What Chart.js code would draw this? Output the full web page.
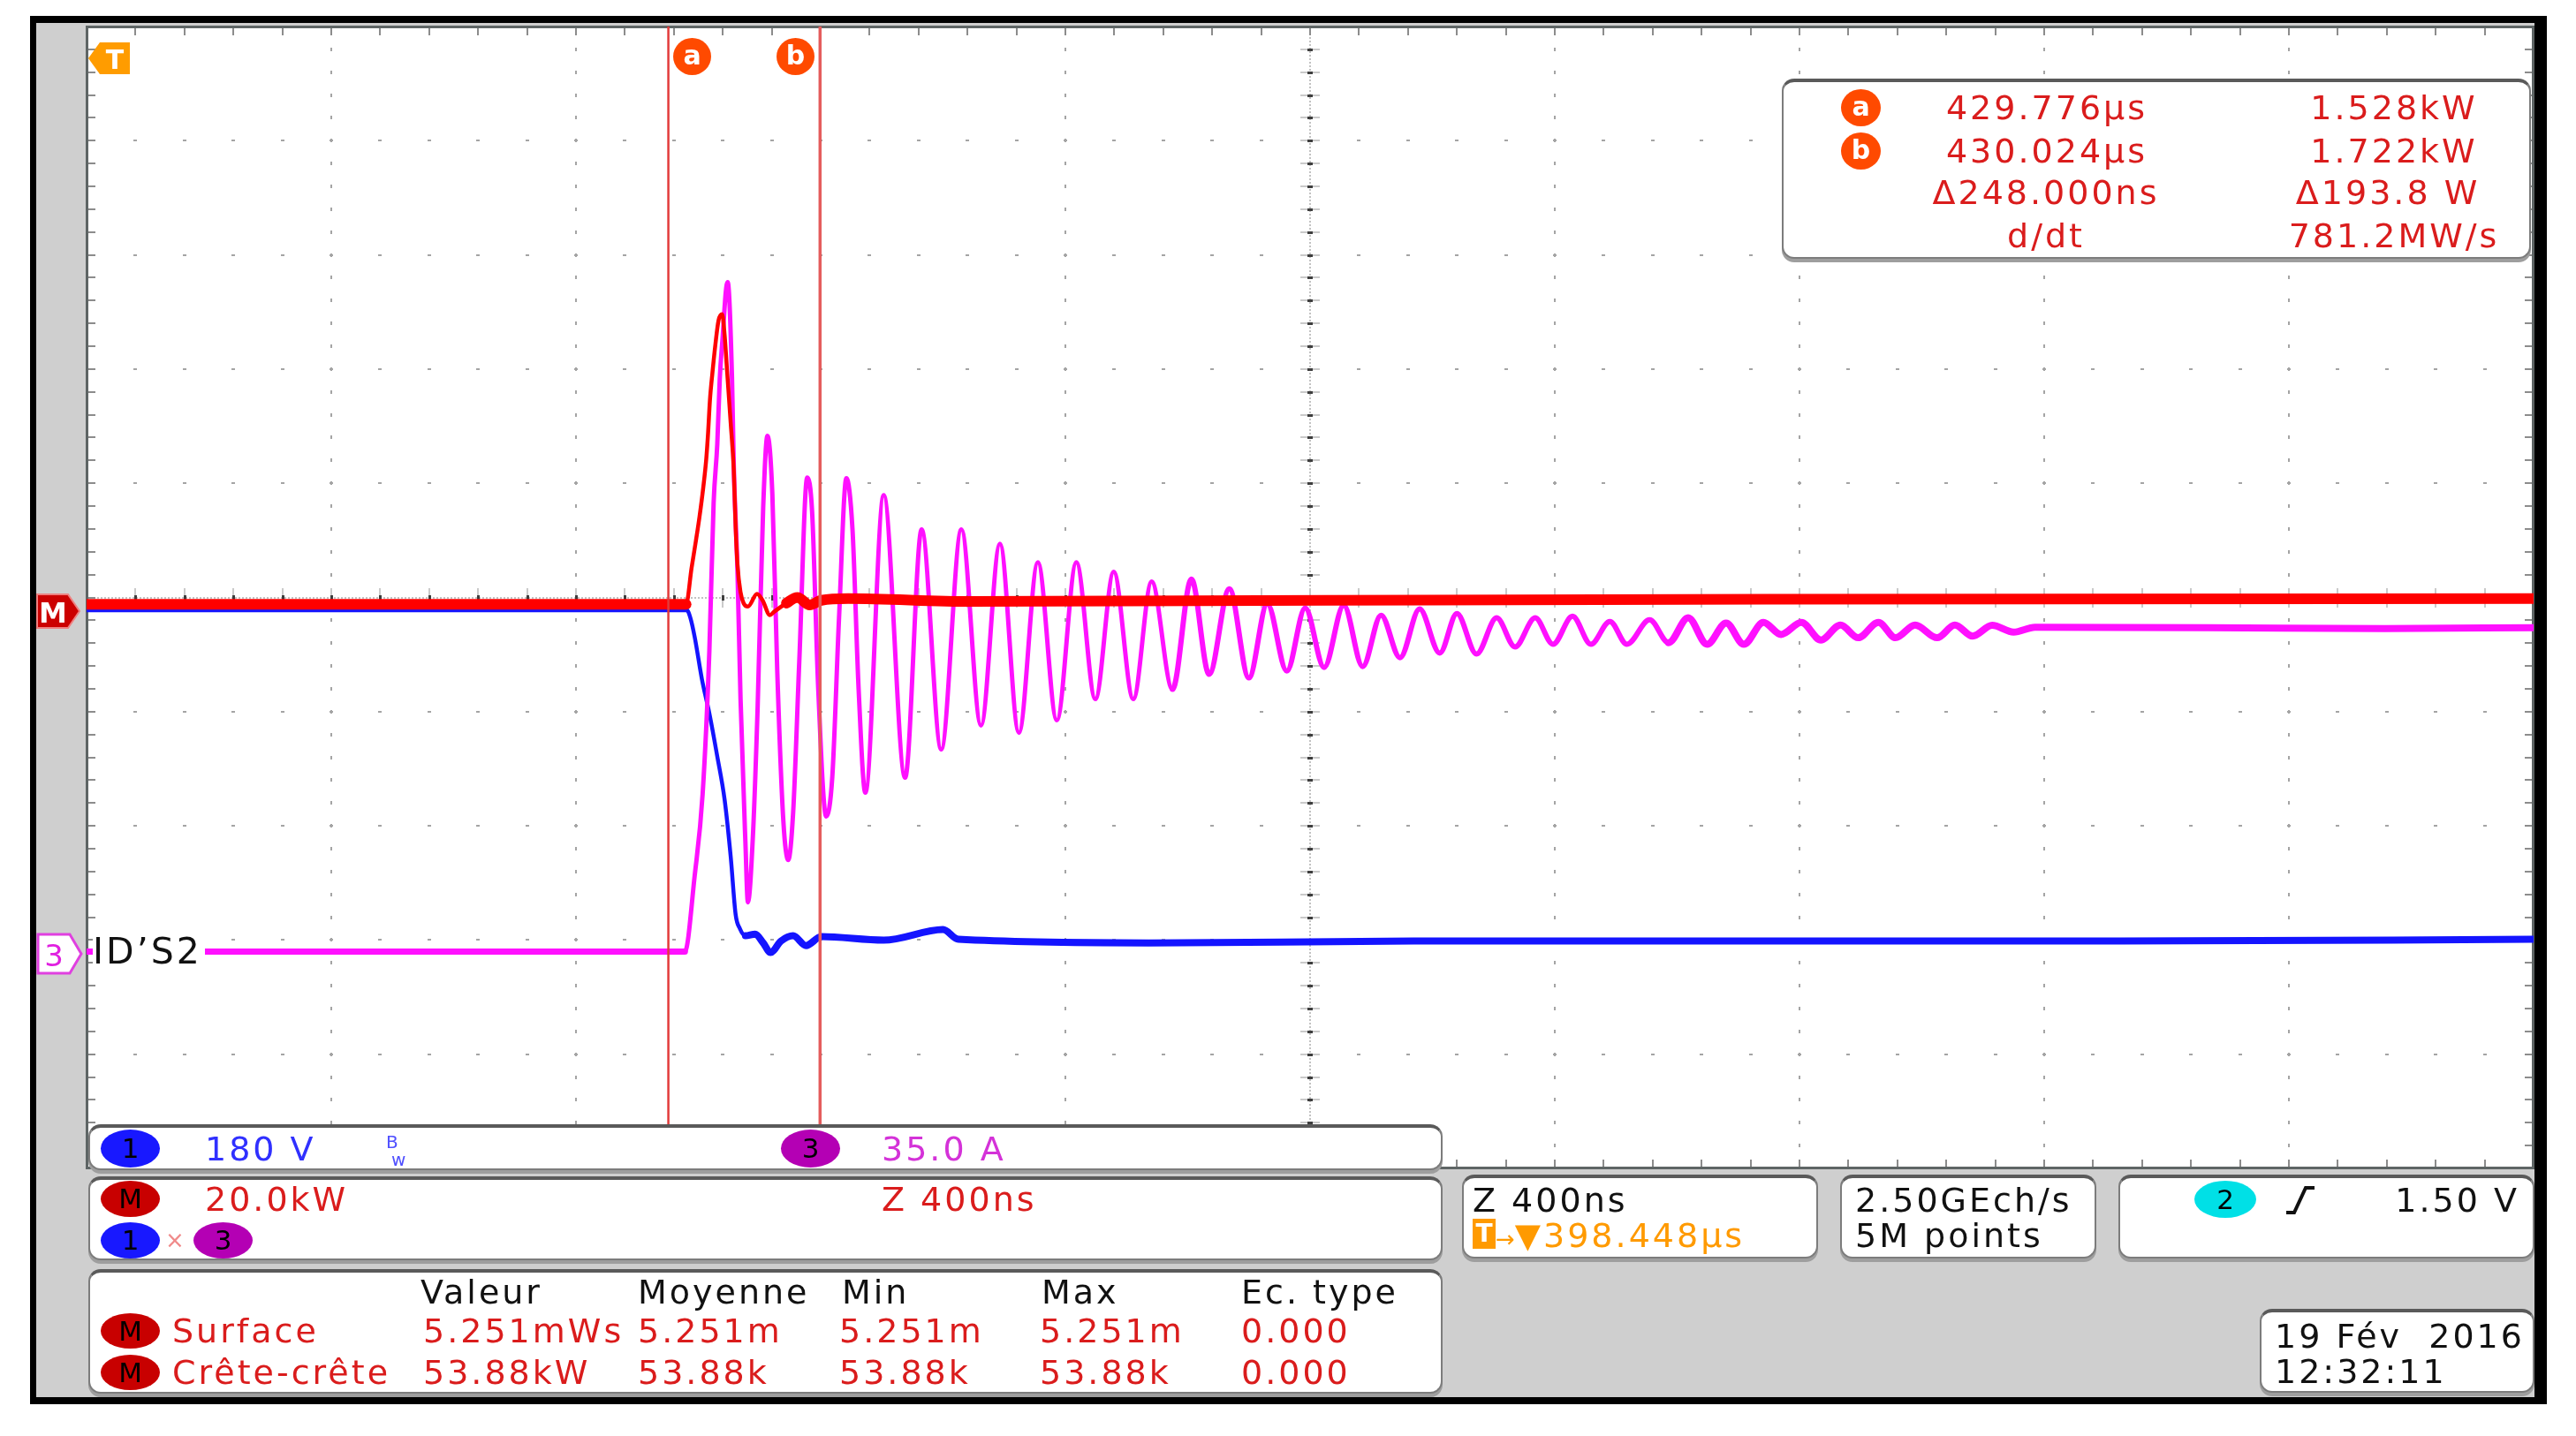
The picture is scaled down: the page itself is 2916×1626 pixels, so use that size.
<!DOCTYPE html>
<html>
<head>
<meta charset="utf-8">
<title>IDS2 turn-on transient</title>
<script src="https://cdn.jsdelivr.net/npm/chart.js@4.4.1/dist/chart.umd.min.js"></script>
<style>
  html, body { margin:0; padding:0; width:2916px; height:1626px; overflow:hidden; background:#fff;
    font-family:"DejaVu Sans","Liberation Sans",sans-serif; }
  #frame { position:absolute; left:34px; top:18px; width:2849px; height:1572px; background:#000; }
  #screen { position:absolute; left:41px; top:26px; width:2828px; height:1556px; background:#cfcfcf; }
  #scope { position:absolute; left:0; top:0; width:2916px; height:1626px; }
  .abs { position:absolute; }
  .panel { position:absolute; box-sizing:border-box; background:#fff; border:2px solid #7c7c7c;
    border-top:4px solid #5a5a5a; border-radius:14px; box-shadow:0 4px 0 #9e9e9e; }
  .t { position:absolute; font-size:38px; line-height:38px; letter-spacing:3px; white-space:nowrap; }
  .c { width:420px; text-align:center; }
  .red { color:#da1c1c; }
  .blk { color:#111; }
  .badge { position:absolute; border-radius:50%; text-align:center; color:#000; font-size:31px; }
  .circ { position:absolute; border-radius:50%; background:#ff4a00; color:#fff; text-align:center;
    font-weight:bold; font-size:30px; }
</style>
</head>
<body>
<div id="frame"></div>
<div id="screen"></div>
<canvas id="scope" width="2916" height="1626"></canvas>

<!-- trigger marker -->
<svg class="abs" style="left:99px;top:47px" width="50" height="38">
  <polygon points="1,19 14,1 48,1 48,37 14,37" fill="#ff9c00"/>
  <text x="31" y="31" font-size="30" font-weight="bold" fill="#fff" text-anchor="middle" font-family="DejaVu Sans">T</text>
</svg>
<!-- cursor labels -->
<div class="circ" style="left:762px;top:43px;width:43px;height:42px;line-height:40px;">a</div>
<div class="circ" style="left:879px;top:43px;width:43px;height:42px;line-height:40px;">b</div>

<!-- channel markers -->
<svg class="abs" style="left:41px;top:672px" width="50" height="40">
  <polygon points="1,1 36,1 49,20 36,39 1,39" fill="#cc0000" stroke="#ee8080" stroke-width="2"/>
  <text x="19" y="33" font-size="32" font-weight="bold" fill="#fff" text-anchor="middle" font-family="DejaVu Sans">M</text>
</svg>
<svg class="abs" style="left:41px;top:1056px" width="54" height="48">
  <polygon points="2,2 38,2 51,24 38,46 2,46" fill="#fff" stroke="#e040e0" stroke-width="3"/>
  <text x="20" y="38" font-size="34" fill="#e020e0" text-anchor="middle" font-family="DejaVu Sans">3</text>
</svg>
<div class="t blk" style="left:105px;top:1057px;font-size:41px;line-height:41px;background:#fff;padding-right:3px;">ID’S2</div>

<!-- cursor measurement box -->
<div class="panel" style="left:2017px;top:89px;width:848px;height:204px;"></div>
<div class="circ" style="left:2084px;top:101px;width:45px;height:42px;line-height:40px;">a</div>
<div class="circ" style="left:2084px;top:150px;width:45px;height:42px;line-height:40px;">b</div>
<div class="t c red" style="left:2107px;top:103px;">429.776µs</div>
<div class="t c red" style="left:2500px;top:103px;">1.528kW</div>
<div class="t c red" style="left:2107px;top:152px;">430.024µs</div>
<div class="t c red" style="left:2500px;top:152px;">1.722kW</div>
<div class="t c red" style="left:2106px;top:199px;">Δ248.000ns</div>
<div class="t c red" style="left:2493px;top:199px;">Δ193.8 W</div>
<div class="t c red" style="left:2106px;top:248px;">d/dt</div>
<div class="t c red" style="left:2500px;top:248px;">781.2MW/s</div>

<!-- channel panel -->
<div class="panel" style="left:100px;top:1273px;width:1533px;height:52px;"></div>
<div class="badge" style="left:114px;top:1279px;width:67px;height:43px;line-height:43px;background:#1818ff;">1</div>
<div class="t" style="left:232px;top:1282px;color:#3030ff;">180 V</div>
<div class="t" style="left:437px;top:1283px;color:#5050ff;font-size:20px;line-height:20px;letter-spacing:0;">B<br><span style="padding-left:6px">w</span></div>
<div class="badge" style="left:884px;top:1279px;width:67px;height:43px;line-height:43px;background:#b400b4;">3</div>
<div class="t" style="left:998px;top:1282px;color:#d432d8;">35.0 A</div>

<!-- math panel -->
<div class="panel" style="left:100px;top:1332px;width:1533px;height:95px;"></div>
<div class="badge" style="left:114px;top:1337px;width:67px;height:41px;line-height:41px;background:#c80000;">M</div>
<div class="t red" style="left:232px;top:1339px;">20.0kW</div>
<div class="t red" style="left:998px;top:1339px;">Z 400ns</div>
<div class="badge" style="left:114px;top:1384px;width:67px;height:41px;line-height:41px;background:#1818ff;">1</div>
<div class="t" style="left:187px;top:1391px;color:#f08a8a;font-size:26px;line-height:26px;letter-spacing:0;">×</div>
<div class="badge" style="left:219px;top:1384px;width:67px;height:41px;line-height:41px;background:#b400b4;">3</div>

<!-- measurement statistics panel -->
<div class="panel" style="left:100px;top:1437px;width:1533px;height:141px;"></div>
<div class="t blk" style="left:476px;top:1444px;">Valeur</div>
<div class="t blk" style="left:722px;top:1444px;">Moyenne</div>
<div class="t blk" style="left:953px;top:1444px;">Min</div>
<div class="t blk" style="left:1179px;top:1444px;">Max</div>
<div class="t blk" style="left:1405px;top:1444px;">Ec. type</div>
<div class="badge" style="left:114px;top:1487px;width:67px;height:40px;line-height:40px;background:#c80000;">M</div>
<div class="t red" style="left:195px;top:1488px;">Surface</div>
<div class="t red" style="left:479px;top:1488px;">5.251mWs</div>
<div class="t red" style="left:722px;top:1488px;">5.251m</div>
<div class="t red" style="left:950px;top:1488px;">5.251m</div>
<div class="t red" style="left:1177px;top:1488px;">5.251m</div>
<div class="t red" style="left:1405px;top:1488px;">0.000</div>
<div class="badge" style="left:114px;top:1534px;width:67px;height:40px;line-height:40px;background:#c80000;">M</div>
<div class="t red" style="left:195px;top:1535px;">Crête-crête</div>
<div class="t red" style="left:479px;top:1535px;">53.88kW</div>
<div class="t red" style="left:722px;top:1535px;">53.88k</div>
<div class="t red" style="left:950px;top:1535px;">53.88k</div>
<div class="t red" style="left:1177px;top:1535px;">53.88k</div>
<div class="t red" style="left:1405px;top:1535px;">0.000</div>

<!-- timebase panel -->
<div class="panel" style="left:1655px;top:1330px;width:403px;height:95px;"></div>
<div class="t blk" style="left:1667px;top:1340px;">Z 400ns</div>
<div class="t" style="left:1667px;top:1380px;color:#ff9a00;"><span style="display:inline-block;background:#ff9a00;color:#fff;font-weight:bold;font-size:28px;width:26px;height:34px;line-height:34px;text-align:center;letter-spacing:0;vertical-align:top;">T</span><span style="font-size:26px;letter-spacing:0;">→</span>▼398.448µs</div>

<!-- acquisition panel -->
<div class="panel" style="left:2083px;top:1330px;width:290px;height:95px;"></div>
<div class="t blk" style="left:2100px;top:1340px;">2.50GEch/s</div>
<div class="t blk" style="left:2100px;top:1380px;">5M points</div>

<!-- trigger panel -->
<div class="panel" style="left:2398px;top:1330px;width:471px;height:95px;"></div>
<div class="badge" style="left:2484px;top:1337px;width:70px;height:42px;line-height:42px;background:#00e0e6;">2</div>
<svg class="abs" style="left:2586px;top:1342px" width="38" height="34">
  <path d="M2,31 L11,31 L24,3 L34,3" stroke="#111" stroke-width="4" fill="none"/>
</svg>
<div class="t blk" style="left:2652px;top:1340px;width:200px;text-align:right;">1.50 V</div>

<!-- date panel -->
<div class="panel" style="left:2558px;top:1482px;width:311px;height:95px;"></div>
<div class="t blk" style="left:2575px;top:1494px;">19 Fév&nbsp;&nbsp;2016</div>
<div class="t blk" style="left:2575px;top:1534px;">12:32:11</div>

<script>
// ---------------- data ----------------
// Horizontal: time in µs (zoom window 400 ns/div, 10 divisions)
const X_MIN_US = 428.825;
const US_PER_DIV = 0.4;
const X_DIVS = 10, Y_DIVS = 10;

// Vertical scales per channel and ground positions (divisions from centre)
const CH1_V_PER_DIV = 180;   // channel 1, volts
const CH3_A_PER_DIV = 35;    // channel 3 (IDS2), amps
const M_KW_PER_DIV = 20;     // math M = 1 x 3, kW
const CH1_POS_DIV = -3.11;
const CH3_POS_DIV = -3.11;
const M_POS_DIV = -0.11;

// Cursors a and b (µs)
const cursorTimesUs = [429.776, 430.024];

// Channel 1 (blue) – voltage, V
const ch1TimeUs = [428.825, 429.806, 429.812, 429.819, 429.831, 429.843, 429.856, 429.868, 429.878,
  429.886, 429.893, 429.902, 429.918, 429.931, 429.943, 429.960, 429.980, 430.001, 430.026, 430.128,
  430.225, 430.250, 430.561, 430.994, 431.572, 432.149, 432.825];
const ch1Volts = [540.1, 540.1, 527.6, 497.7, 430.2, 377.3, 309.1, 240.8, 150.3,
  59.9, 37.6, 26.5, 29.2, 15.3, 0, 18.1, 26.5, 11.1, 25.1, 19.5,
  36.2, 20.9, 15.3, 18.1, 18.1, 18.1, 20.9];

// Channel 3 (magenta) – drain current IDS2, A
const ch3TimeUs = [428.825, 429.803, 429.819, 429.832, 429.843, 429.850, 429.856, 429.860, 429.865, 429.870,
  429.873, 429.880, 429.883, 429.889, 429.894, 429.902, 429.906, 429.914, 429.922, 429.931,
  429.938, 429.946, 429.954, 429.964, 429.972, 429.980, 429.990, 430.003, 430.011, 430.021,
  430.034, 430.044, 430.055, 430.067, 430.077, 430.087, 430.098, 430.128, 430.163, 430.190,
  430.222, 430.255, 430.287, 430.318, 430.349, 430.380, 430.411, 430.443, 430.474, 430.504,
  430.536, 430.566, 430.600, 430.631, 430.660, 430.693, 430.725, 430.755, 430.787, 430.817,
  430.848, 430.880, 430.911, 430.941, 430.972, 431.004, 431.037, 431.065, 431.097, 431.130,
  431.160, 431.193, 431.222, 431.254, 431.284, 431.315, 431.343, 431.380, 431.411, 431.443,
  431.474, 431.505, 431.534, 431.566, 431.595, 431.628, 431.660, 431.692, 431.721, 431.754,
  431.782, 431.814, 431.850, 431.879, 431.908, 431.940, 431.975, 432.010, 432.294, 432.582, 432.825];
const ch3Amps = [0.3, 0.3, 23.5, 48.5, 92.3, 137.8, 155.9, 175.7, 189.2, 202.7,
  205.5, 176.5, 148.6, 116.9, 77.7, 33.6, 15.4, 34.9, 75.5, 136.4,
  158.4, 140.5, 86.4, 40.3, 28.4, 43.0, 89.1, 145.6, 135.1, 80.9,
  41.7, 53.9, 102.6, 145.4, 129.7, 80.9, 49.0, 140.2, 53.6, 129.7,
  62.3, 129.7, 69.6, 125.3, 67.4, 119.6, 71.2, 119.6, 77.7, 116.7,
  77.7, 113.7, 80.7, 114.5, 85.3, 111.5, 84.2, 106.9, 86.3, 105.6,
  87.4, 106.4, 87.7, 103.4, 90.4, 105.3, 91.8, 103.9, 91.5, 102.6,
  93.7, 102.6, 94.5, 103.1, 94.5, 101.5, 94.5, 102.0, 95.0, 102.6,
  94.5, 101.0, 94.5, 101.2, 97.5, 101.2, 95.8, 100.4, 96.5, 101.2,
  96.5, 100.4, 96.5, 100.4, 97.0, 100.3, 98.2, 99.7, 99.6, 99.3, 99.6];

// Math M (red) – instantaneous power 1 x 3, kW
const mTimeUs = [428.825, 429.805, 429.814, 429.821, 429.827, 429.833, 429.838, 429.841, 429.844, 429.848,
  429.853, 429.858, 429.864, 429.868, 429.872, 429.878, 429.883, 429.886, 429.889, 429.894,
  429.899, 429.906, 429.921, 429.930, 429.942, 429.949, 429.969, 429.987, 430.007, 430.026,
  430.070, 430.272, 430.850, 431.572, 432.825];
const mKw = [1.0, 1.0, 7.4, 12.1, 16.4, 21.4, 26.5, 31.1, 36.8, 41.5,
  46.6, 50.7, 51.8, 48.1, 41.9, 32.6, 24.4, 14.5, 7.9, 3.1,
  1.2, 0.6, 2.8, 1.7, -0.9, -0.3, 1.2, 2.2, 0.9, 1.7,
  2.0, 1.5, 1.7, 1.9, 2.0];

// ---------------- chart ----------------
const pts = (ts, vs) => ts.map((t, k) => ({ x: t, y: vs[k] }));
const yRange = (perDiv, pos) => ({ min: (-Y_DIVS / 2 - pos) * perDiv, max: (Y_DIVS / 2 - pos) * perDiv });

const graticule = {
  id: 'graticule',
  beforeDraw(chart) {
    const { ctx, chartArea: a } = chart;
    ctx.save();
    ctx.fillStyle = '#ffffff';
    ctx.fillRect(a.left, a.top, a.right - a.left, a.bottom - a.top);
    ctx.restore();
  },
  beforeDatasetsDraw(chart) {
    const { ctx, chartArea: a, scales } = chart;
    const X = v => scales.x.getPixelForValue(v);
    const Y = d => scales.yDiv.getPixelForValue(d);
    const minorX = [], minorY = [];
    for (let i = 1; i < X_DIVS * 5; i++) minorX.push(Math.round(X(X_MIN_US + i * US_PER_DIV / 5)));
    for (let j = 1; j < Y_DIVS * 5; j++) minorY.push(Math.round(Y(-Y_DIVS / 2 + j / 5)));
    ctx.save();
    // dotted major lines
    ctx.fillStyle = '#a4a4a4';
    for (let i = 1; i < X_DIVS; i++) {
      if (i === X_DIVS / 2) continue;
      const px = Math.round(X(X_MIN_US + i * US_PER_DIV));
      minorY.forEach(py => ctx.fillRect(px - 1, py - 2, 2, 4));
    }
    for (let j = 1; j < Y_DIVS; j++) {
      if (j === Y_DIVS / 2) continue;
      const py = Math.round(Y(-Y_DIVS / 2 + j));
      minorX.forEach(px => ctx.fillRect(px - 2, py - 1, 4, 2));
    }
    // centre cross with ticks
    const cx = Math.round(X(X_MIN_US + X_DIVS / 2 * US_PER_DIV));
    const cy = Math.round(Y(0));
    ctx.fillStyle = '#c2c2c2';
    for (let py = a.top; py < a.bottom; py += 4) ctx.fillRect(cx - 1, py, 2, 2);
    for (let px = a.left; px < a.right; px += 4) ctx.fillRect(px, cy - 1, 2, 2);
    minorY.forEach(py => {
      ctx.fillStyle = '#cacaca'; ctx.fillRect(cx - 11, py - 1, 22, 2);
      ctx.fillStyle = '#3e3e3e'; ctx.fillRect(cx - 3, py - 1, 6, 3);
    });
    minorX.forEach(px => {
      ctx.fillStyle = '#cacaca'; ctx.fillRect(px - 1, cy - 11, 2, 22);
      ctx.fillStyle = '#3e3e3e'; ctx.fillRect(px - 1, cy - 3, 3, 6);
    });
    // frame ticks
    ctx.fillStyle = '#8c8c8c';
    minorX.forEach(px => { ctx.fillRect(px - 1, a.top + 2, 2, 8); ctx.fillRect(px - 1, a.bottom - 10, 2, 8); });
    minorY.forEach(py => { ctx.fillRect(a.left + 2, py - 1, 8, 2); ctx.fillRect(a.right - 10, py - 1, 8, 2); });
    // frame border
    ctx.fillStyle = '#5e6565';
    ctx.fillRect(a.left - 1, a.top - 1, a.right - a.left + 2, 3);
    ctx.fillRect(a.left - 1, a.bottom - 2, a.right - a.left + 2, 3);
    ctx.fillRect(a.left - 1, a.top - 1, 3, a.bottom - a.top + 2);
    ctx.fillRect(a.right - 2, a.top - 1, 3, a.bottom - a.top + 2);
    ctx.restore();
  },
  afterDatasetsDraw(chart) {
    const { ctx, chartArea: a, scales } = chart;
    ctx.save();
    cursorTimesUs.forEach((t, k) => {
      const px = scales.x.getPixelForValue(t);
      ctx.strokeStyle = k === 0 ? '#e23a3a' : '#e45c5c';
      ctx.lineWidth = k === 0 ? 2.5 : 3.5;
      ctx.beginPath(); ctx.moveTo(px, a.top); ctx.lineTo(px, a.bottom); ctx.stroke();
    });
    ctx.restore();
  }
};

const widthM = c => { const t = mTimeUs[c.p0DataIndex]; return (t >= 429.80 && t < 429.95) ? 4.5 : 12; };
const width3 = c => {
  const t = ch3TimeUs[c.p0DataIndex];
  if (t < 429.80) return 7;
  if (t < 430.6) return 5;
  if (t < 431.4) return 6;
  return 8;
};
const width1 = c => {
  const t = ch1TimeUs[c.p0DataIndex];
  if (t < 429.80) return 5;
  if (t < 429.90) return 4.5;
  return 8;
};

new Chart(document.getElementById('scope'), {
  type: 'line',
  data: {
    datasets: [
      { label: 'M = 1 × 3 (kW)', data: pts(mTimeUs, mKw), yAxisID: 'yM', borderColor: '#ff0000',
        borderWidth: 12, segment: { borderWidth: widthM }, cubicInterpolationMode: 'monotone' },
      { label: '3 IDS2 (A)', data: pts(ch3TimeUs, ch3Amps), yAxisID: 'y3', borderColor: '#ff10ff',
        borderWidth: 5, segment: { borderWidth: width3 }, cubicInterpolationMode: 'monotone' },
      { label: '1 (V)', data: pts(ch1TimeUs, ch1Volts), yAxisID: 'y1', borderColor: '#1414ff',
        borderWidth: 7, segment: { borderWidth: width1 }, cubicInterpolationMode: 'monotone' }
    ]
  },
  options: {
    responsive: false,
    animation: false,
    devicePixelRatio: 1,
    layout: { padding: { left: 98, top: 30, right: 48, bottom: 303 } },
    plugins: { legend: { display: false }, tooltip: { enabled: false } },
    elements: { point: { radius: 0 }, line: { borderJoinStyle: 'round', borderCapStyle: 'round' } },
    scales: {
      x: { type: 'linear', display: false, min: X_MIN_US, max: X_MIN_US + X_DIVS * US_PER_DIV },
      y1: Object.assign({ type: 'linear', display: false }, yRange(CH1_V_PER_DIV, CH1_POS_DIV)),
      y3: Object.assign({ type: 'linear', display: false }, yRange(CH3_A_PER_DIV, CH3_POS_DIV)),
      yM: Object.assign({ type: 'linear', display: false }, yRange(M_KW_PER_DIV, M_POS_DIV)),
      yDiv: { type: 'linear', display: false, min: -Y_DIVS / 2, max: Y_DIVS / 2 }
    }
  },
  plugins: [graticule]
});
</script>
</body>
</html>
